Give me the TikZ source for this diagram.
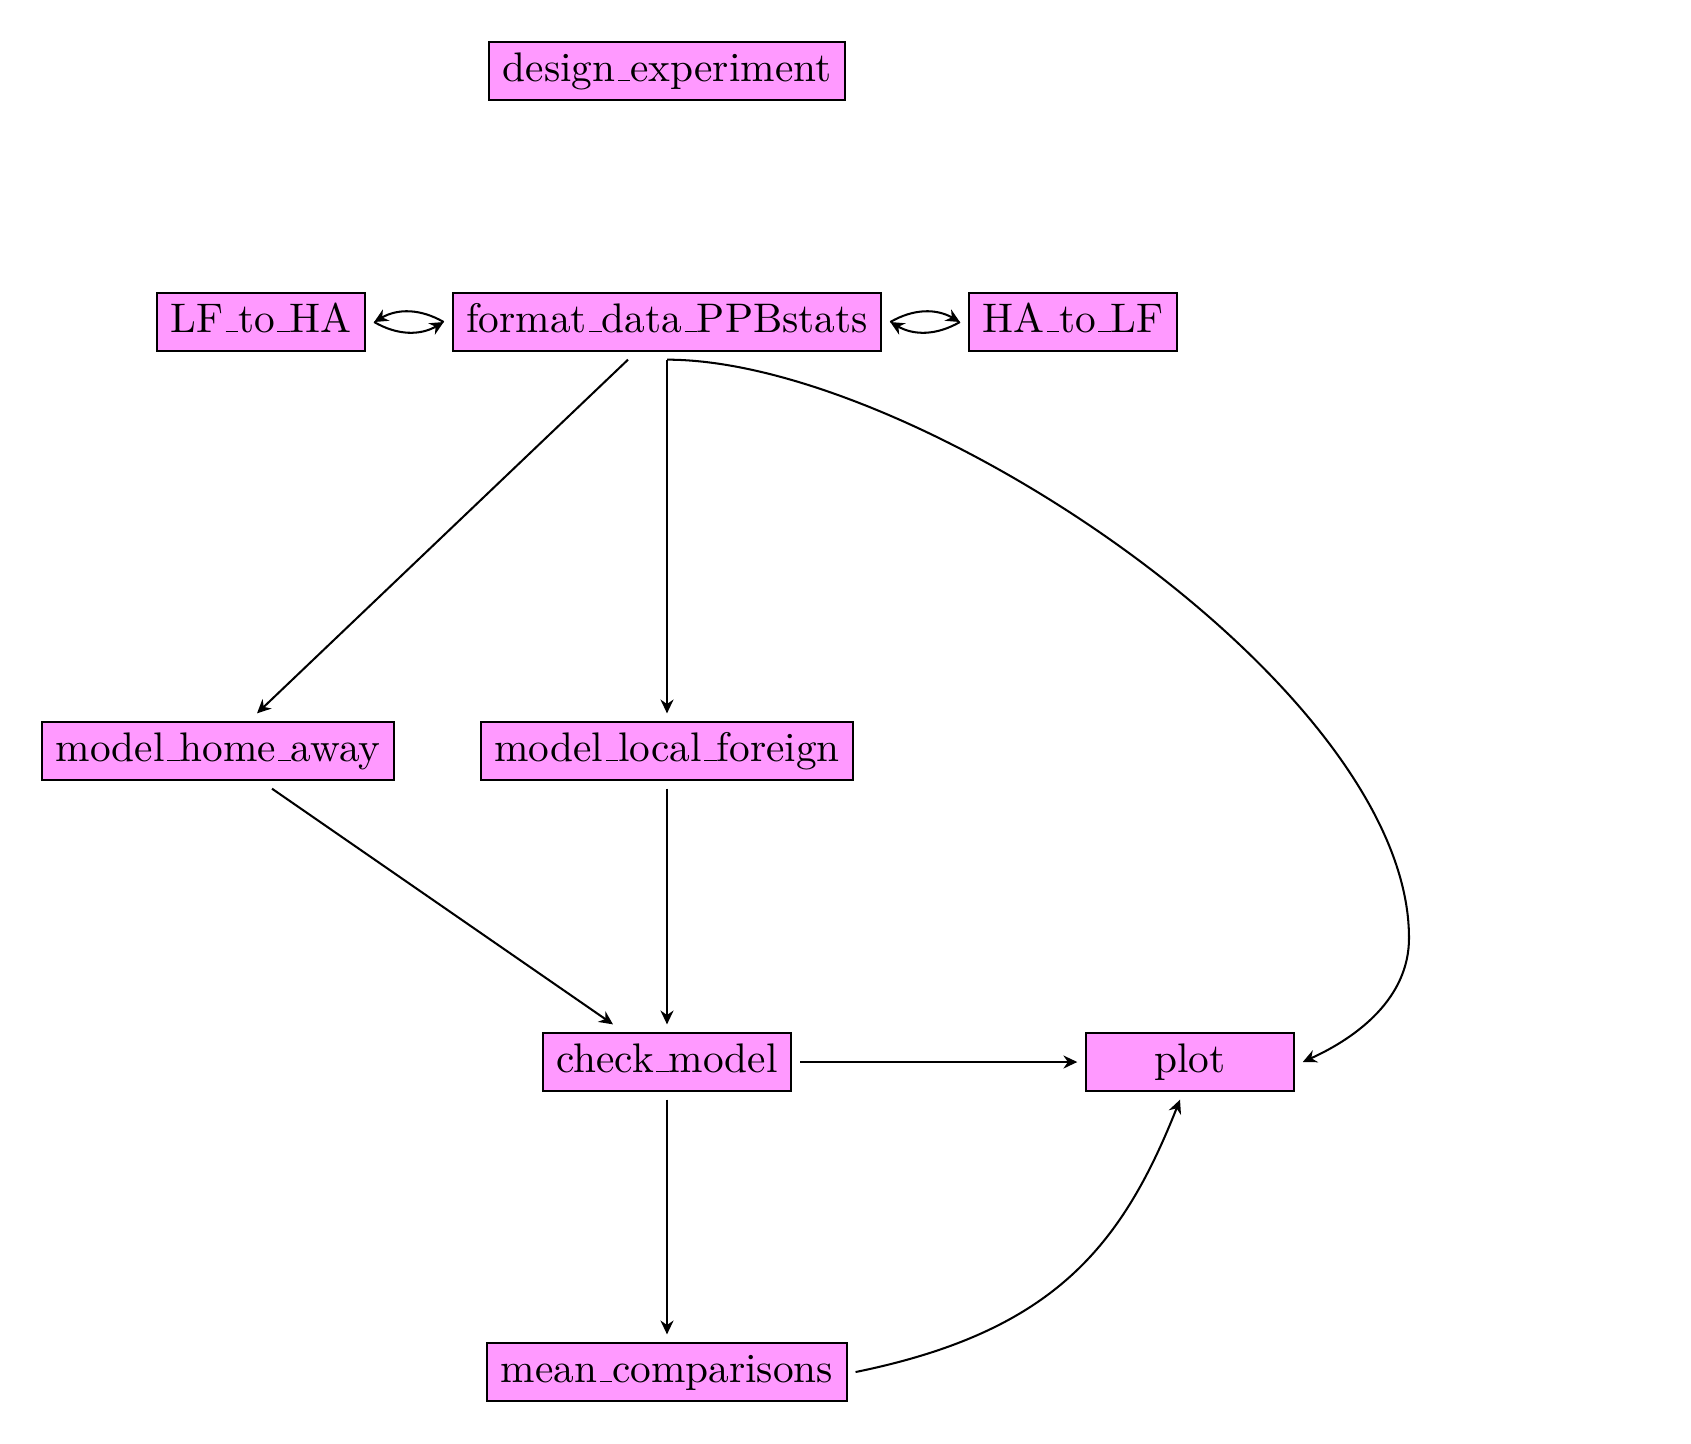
\documentclass[tikz,border=0pt]{standalone}
\usetikzlibrary{calc,arrows.meta}
\newcommand{\us}{\leavevmode\kern.06em\vbox{\hrule width.3em}}
\definecolor{boxfill}{RGB}{255,153,255}
\begin{document}
\begin{tikzpicture}[x=0.2457pt, y=-0.2457pt,
  box/.style={draw=black, fill=boxfill, line width=0.5pt, minimum width=51pt,
    minimum height=14.1pt, inner xsep=3.33pt, inner ysep=0pt,
    font=\fontsize{10.15pt}{12pt}\selectfont,
    text height=7.05pt, text depth=1.97pt, outer sep=2.2pt},
  conn/.style={-{Stealth[length=3.4pt,width=3.2pt,inset=1.1pt]}, line width=0.5pt}]
\useasboundingbox (0,0) rectangle (1691,1443);
\node[box] (design) at (667,71) {design\us experiment};
\node[box] (format) at (667,322) {format\us data\us PPBstats};
\node[box] (lfha) at (261,322) {LF\us to\us HA};
\node[box] (half) at (1073,322) {HA\us to\us LF};
\node[box] (mha) at (218,751) {model\us home\us away};
\node[box] (mlf) at (667,751) {model\us local\us foreign};
\node[box] (check) at (667,1062) {check\us model};
\node[box] (plot) at (1190,1062) {plot};
\node[box] (mean) at (667,1372) {mean\us comparisons};
\coordinate (bulge) at (1409,938);

\draw[conn] (lfha.east) to[bend right=30] (format.west);
\draw[conn] (format.west) to[bend right=30] (lfha.east);
\draw[conn] (format.east) to[bend left=30] (half.west);
\draw[conn] (half.west) to[bend left=30] (format.east);

\draw[conn] ($(format.south)+(-39,0)$) -- ($(mha.north)+(39,0)$);
\draw[conn] (format.south) -- (mlf.north);
\draw[conn] (format.south) .. controls +(250,0) and +(0,-250) .. (bulge)
  .. controls +(0,60) and +(55,-25) .. (plot.east);
\draw[conn] ($(mha.south)+(54,0)$) -- ($(check.north)+(-54,0)$);
\draw[conn] (mlf.south) -- (check.north);
\draw[conn] (check.east) -- (plot.west);
\draw[conn] (check.south) -- (mean.north);
\draw[conn] (mean.east) .. controls +(196,-40) and +(-59,149) .. ($(plot.south)+(-10,0)$);
\end{tikzpicture}
\end{document}
